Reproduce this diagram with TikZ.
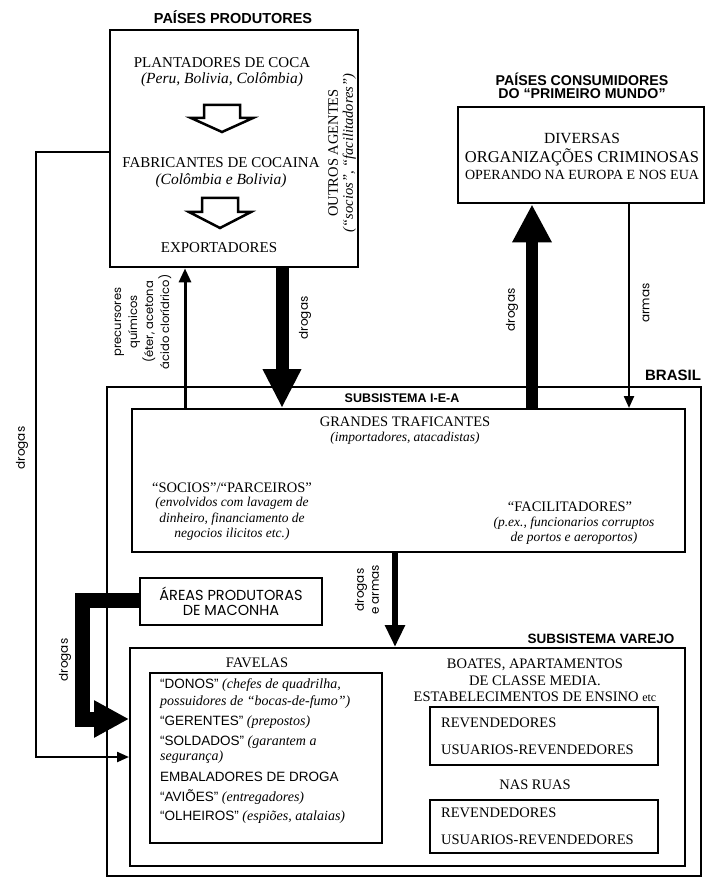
\documentclass[tikz,border=0pt]{standalone}
\usepackage{fontspec}
\setmainfont{Liberation Serif}
\setsansfont{Liberation Sans}
\newfontfamily\geofont{Poppins}
\usetikzlibrary{arrows.meta}
\newcommand\favrole[1]{{\sffamily\upshape\fontsize{13.5}{15}\selectfont #1}}

\begin{document}
\begin{tikzpicture}[x=1pt, y=-1pt, line join=miter,
    boxnode/.style={draw, line width=2pt, inner sep=0pt},
    head/.style={font=\sffamily\bfseries\fontsize{14.5}{13}\selectfont, align=center},
    sub/.style={font=\sffamily\bfseries\fontsize{13.5}{14}\selectfont, inner sep=1pt},
    serif/.style={font=\fontsize{14.5}{17}\selectfont, align=center, inner sep=1pt},
    paren/.style={font=\itshape\fontsize{13.5}{15.5}\selectfont, align=center, inner sep=1pt},
    favline/.style={font=\itshape\fontsize{14}{15}\selectfont, anchor=west, inner sep=0pt},
    flow/.style={font=\geofont\fontsize{12}{15}\selectfont, rotate=90, align=center, inner sep=1pt},
    thinarrow/.style={line width=2.2pt, -{Triangle[length=12pt,width=10pt]}},
    heavyarrow/.style={line width=13pt, -{Triangle[length=39pt,width=36pt]}},
    hollow/.style={line width=2.5pt}]
    \useasboundingbox (0,0) rectangle (708,882);

    % draw outer boxes
    \node[boxnode, line width=2.8pt, minimum width=248, minimum height=237] (prod) at (234,148.5) {};
    \node[boxnode, line width=2.8pt, minimum width=246, minimum height=96] (cons) at (581,155) {};
    \node[boxnode, line width=2.2pt, minimum width=594, minimum height=489] (brasil) at (404,631.5) {};
    \node[boxnode, minimum width=553, minimum height=143] (iea) at (408.5,480.5) {};
    \node[boxnode, minimum width=555, minimum height=218] (varejo) at (407.5,757) {};

    % draw titles
    \node[head] (prodtitle) at (233,17) {PAÍSES PRODUTORES};
    \node[head, font=\sffamily\bfseries\fontsize{14.2}{13}\selectfont] (constitle) at (582,86) {PAÍSES CONSUMIDORES\\DO “PRIMEIRO MUNDO”};
    \node[head, font=\sffamily\bfseries\fontsize{15}{15}\selectfont] (brasiltitle) at (673,375) {BRASIL};
    \node[sub, font=\sffamily\bfseries\fontsize{12.5}{14}\selectfont] (ieatitle) at (402,398) {SUBSISTEMA I-E-A};
    \node[sub] (varejotitle) at (601,639) {SUBSISTEMA VAREJO};

    % producing countries
    \node[serif, font=\fontsize{15}{17}\selectfont] (plant) at (222,63) {PLANTADORES DE COCA};
    \node[paren, font=\itshape\fontsize{15.5}{17}\selectfont] (plantwhere) at (222,80) {(Peru, Bolivia, Colômbia)};
    \node[serif, font=\fontsize{15}{17}\selectfont] (fabr) at (221,163) {FABRICANTES DE COCAINA};
    \node[paren, font=\itshape\fontsize{15.5}{17}\selectfont] (fabrwhere) at (221,181) {(Colômbia e Bolivia)};
    \node[serif, font=\fontsize{15}{17}\selectfont] (expo) at (219,248) {EXPORTADORES};
    \node[serif, rotate=90, font=\fontsize{14.5}{15}\selectfont] (outros) at (342,153)
      {OUTROS AGENTES\\{\itshape\fontsize{14.5}{15}\selectfont (“socios”, “facilitadores”)}};
    \draw[hollow] (204,105) -- (240,105) -- (240,118) -- (253,118) -- (222,132) -- (191,118) -- (204,118) -- cycle;
    \draw[hollow] (202,198) -- (238,198) -- (238,212) -- (251,212) -- (220,228) -- (189,212) -- (202,212) -- cycle;

    % consuming countries
    \node[serif, font=\fontsize{15.5}{17}\selectfont] (diversas) at (582,138) {DIVERSAS};
    \node[serif, font=\fontsize{16.5}{18}\selectfont] (orgs) at (582,157) {ORGANIZAÇÕES CRIMINOSAS};
    \node[serif, font=\fontsize{14}{16}\selectfont] (operando) at (582,175) {OPERANDO NA EUROPA E NOS EUA};

    % subsystem I-E-A
    \node[serif] (grandes) at (405,422) {GRANDES TRAFICANTES};
    \node[paren] (grandeskind) at (405,438) {(importadores, atacadistas)};
    \node[serif] (socios) at (232,488) {“SOCIOS”/“PARCEIROS”};
    \node[paren] (sociosnote) at (232,519) {(envolvidos com lavagem de\\dinheiro, financiamento de\\negocios ilicitos etc.)};
    \node[serif] (facil) at (570,507) {“FACILITADORES”};
    \node[paren, font=\itshape\fontsize{13.5}{15}\selectfont] (facilnote) at (574,531) {(p.ex., funcionarios corruptos\\de portos e aeroportos)};

    % marijuana areas
    \node[boxnode, minimum width=182, minimum height=47, align=center,
      font=\geofont\fontsize{14.5}{15.5}\selectfont] (areas) at (231,601.5) {ÁREAS PRODUTORAS\\DE MACONHA};

    % subsystem varejo, favelas
    \node[serif] (favelas) at (257,663) {FAVELAS};
    \node[boxnode, minimum width=232, minimum height=170] (favbox) at (266,758) {};
    \node[favline] (donos) at (160,685) {\favrole{“DONOS”} (chefes de quadrilha,};
    \node[favline] (donos2) at (160,702) {possuidores de “bocas-de-fumo”)};
    \node[favline] (gerentes) at (160,722) {\favrole{“GERENTES”} (prepostos)};
    \node[favline] (soldados) at (160,742) {\favrole{“SOLDADOS”} (garantem a};
    \node[favline] (soldados2) at (160,757) {segurança)};
    \node[favline] (embal) at (160,777) {\favrole{EMBALADORES DE DROGA}};
    \node[favline] (avioes) at (160,797) {\favrole{“AVIÕES”} (entregadores)};
    \node[favline] (olheiros) at (160,817) {\favrole{“OLHEIROS”} (espiões, atalaias)};

    % subsystem varejo, right side
    \node[serif] (boates) at (535,665) {BOATES, APARTAMENTOS};
    \node[serif] (classe) at (535,681) {DE CLASSE MEDIA.};
    \node[serif] (ensino) at (535,697) {ESTABELECIMENTOS DE ENSINO {\fontsize{12}{14}\selectfont etc}};
    \node[boxnode, minimum width=228, minimum height=58] (boatesbox) at (544,736) {};
    \node[serif, anchor=west] (rev1) at (440,723) {REVENDEDORES};
    \node[serif, anchor=west] (usu1) at (440,750) {USUARIOS-REVENDEDORES};
    \node[serif] (ruas) at (535,785) {NAS RUAS};
    \node[boxnode, minimum width=228, minimum height=53] (ruasbox) at (544,826.5) {};
    \node[serif, anchor=west] (rev2) at (440,813) {REVENDEDORES};
    \node[serif, anchor=west] (usu2) at (440,840) {USUARIOS-REVENDEDORES};

    % draw flows between the boxes
    \coordinate (pc) at (185,0);
    \coordinate (dd) at (282,0);
    \coordinate (du) at (532,0);
    \coordinate (ar) at (629,0);
    \coordinate (da) at (395,0);
    \draw[thinarrow, line width=3pt, -{Triangle[length=14pt,width=12pt]}] (pc |- iea.north) -- (pc |- prod.south);
    \draw[heavyarrow] (dd |- prod.south) -- (dd |- iea.north);
    \draw[heavyarrow, line width=12pt, -{Triangle[length=38pt,width=37pt]}] (du |- iea.north) -- (du |- cons.south);
    \draw[thinarrow] (ar |- cons.south) -- (ar |- iea.north);
    \draw[line width=5.5pt, -{Triangle[length=22pt,width=19pt]}] (da |- iea.south) -- (da |- varejo.north);

    % draw left side flows
    \coordinate (l1) at (36,152);
    \coordinate (l2) at (36,757);
    \draw[thinarrow] (l1 -| prod.west) -- (l1) -- (l2) -- (l2 -| varejo.west);
    \coordinate (m1) at (82,600);
    \coordinate (m2) at (82,719);
    \draw[line width=15pt, -{Triangle[length=35pt,width=35pt]}] (m1 -| areas.west) -- (m1) -- (m2) -- (m2 -| varejo.west);

    % draw flow labels
    \node[flow, font=\geofont\fontsize{11.5}{16}\selectfont] (precur) at (143,322) {precursores\\químicos\\(éter, acetona\\ácido clorídrico)};
    \node[flow] (lbldd) at (305,318) {drogas};
    \node[flow] (lbldu) at (512,310) {drogas};
    \node[flow] (lblar) at (646,303) {armas};
    \node[flow] (lblda) at (367,590) {drogas\\e armas};
    \node[flow] (lblleft) at (22,448) {drogas};
    \node[flow] (lblmac) at (65,660) {drogas};

\end{tikzpicture}
\end{document}
